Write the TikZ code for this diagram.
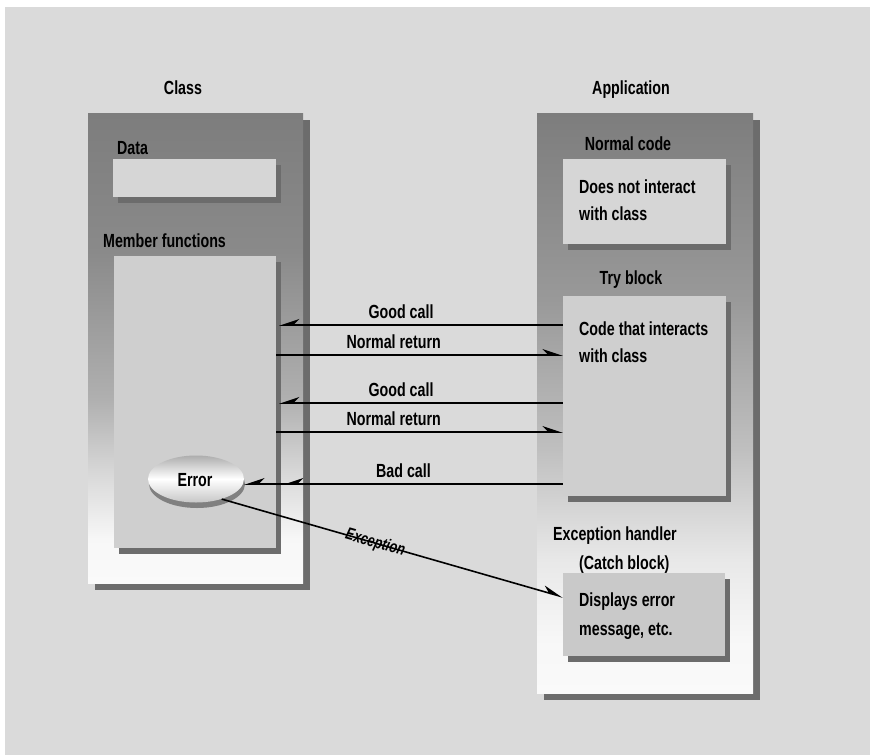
\documentclass[tikz,border=0pt]{standalone}
\usepackage{fontspec}
\newfontfamily\labfont{Liberation Sans}[FakeStretch=0.75]
\usetikzlibrary{arrows.meta,shapes.geometric,shadows}
\definecolor{bg}{HTML}{DADADA}
\definecolor{shadowgray}{HTML}{6C6C6C}
\definecolor{innerA}{HTML}{D6D6D6}
\definecolor{innerB}{HTML}{CFCFCF}
\definecolor{innerC}{HTML}{C9C9C9}
\pgfdeclareverticalshading{classshade}{100bp}{color(0bp)=(white!98!black); color(25bp)=(white!98!black); color(29.6bp)=(white!97!black); color(36bp)=(white!86!black); color(44.5bp)=(white!69!black); color(60.4bp)=(white!54!black); color(75bp)=(white!49!black); color(100bp)=(white!49!black)}
\pgfdeclareverticalshading{appshade}{100bp}{color(0bp)=(white!98!black); color(25bp)=(white!98!black); color(29.6bp)=(white!97!black); color(36.5bp)=(white!91!black); color(46bp)=(white!75!black); color(58.9bp)=(white!60!black); color(75bp)=(white!49!black); color(100bp)=(white!49!black)}
\tikzset{
  lab/.style={font=\labfont\bfseries\fontsize{19}{27}\selectfont, inner sep=0pt, text=black},
  outerbox/.style={draw=none, rectangle, inner sep=0pt,
    drop shadow={shadow xshift=7pt, shadow yshift=-7pt, fill=shadowgray, opacity=1}},
  innerbox/.style={draw=none, rectangle, inner sep=0pt,
    drop shadow={shadow xshift=5pt, shadow yshift=-6pt, fill=shadowgray, opacity=1}},
  harpL/.style={line width=1.6pt, black, -{Stealth[harpoon,swap,length=18pt,width=12pt,inset=6pt]}},
  harpR/.style={line width=1.6pt, black, -{Stealth[harpoon,length=18pt,width=12pt,inset=6pt]}},
}
\begin{document}
\begin{tikzpicture}[x=1pt,y=-1pt]
\useasboundingbox (0,0) rectangle (870,755);
\fill[white] (0,0) rectangle (870,755);
\fill[bg] (5,7) rectangle (870,755);

% outer boxes
\node[outerbox, shading=classshade, minimum width=215pt, minimum height=470pt] (cls) at (195.5,348) {};
\node[outerbox, shading=appshade, minimum width=216pt, minimum height=580pt] (app) at (645,403) {};

% class inner boxes
\node[innerbox, fill=innerA, minimum width=163pt, minimum height=38pt] (data) at (194.5,178) {};
\node[innerbox, fill=innerB, minimum width=162pt, minimum height=292pt] (mem) at (195,402) {};

% application inner boxes
\node[innerbox, fill=innerA, minimum width=163pt, minimum height=85pt] (norm) at (644.5,201.5) {};
\node[innerbox, fill=innerB, minimum width=163pt, minimum height=200pt] (try) at (644.5,396) {};
\node[innerbox, fill=innerC, minimum width=162pt, minimum height=83pt] (disp) at (644,614.5) {};

% error ellipse
\fill[black!50] (197,484) ellipse (48pt and 24pt);
\node[ellipse, inner sep=0pt, minimum width=96pt, minimum height=47pt,
  top color=black!32, bottom color=black!22, middle color=white] (err) at (196,479) {};

% labels
\node[lab, anchor=base] (lclass) at (183,94) {Class};
\node[lab, anchor=base] (lapp) at (631,94) {Application};
\node[lab, anchor=base west] (ldata) at (117,154) {Data};
\node[lab, anchor=base west] (lmem) at (103,247) {Member functions};
\node[lab, anchor=base] (lnorm) at (628,150) {Normal code};
\node[lab, anchor=base] (ltry) at (631,284) {Try block};
\node[lab, anchor=base west] (lexc) at (553,540) {Exception handler};
\node[lab, anchor=base west] (lcatch) at (579,569) {(Catch block)};
\node[lab, anchor=base west] (tnorm1) at (579,193) {Does not interact};
\node[lab, anchor=base west] (tnorm2) at (579,220) {with class};
\node[lab, anchor=base west] (ttry1) at (579,335) {Code that interacts};
\node[lab, anchor=base west] (ttry2) at (579,362) {with class};
\node[lab, anchor=base west] (tdisp1) at (579,606) {Displays error};
\node[lab, anchor=base west] (tdisp2) at (579,635) {message, etc.};
\node[lab, anchor=base] (terr) at (195,486) {Error};

% connectors
\coordinate (r1) at (try.west |- 0,325);
\coordinate (r2) at (try.west |- 0,355);
\coordinate (r3) at (try.west |- 0,403);
\coordinate (r4) at (try.west |- 0,432);
\coordinate (r5) at (try.west |- 0,484);
\coordinate (m1) at (279,325);
\coordinate (m2) at (mem.east |- 0,355);
\coordinate (m3) at (279,403);
\coordinate (m4) at (mem.east |- 0,432);
\coordinate (m5) at (283,484);
\coordinate (e5) at (err.east |- 0,484);

\draw[harpL] (r1) -- node[lab, above=6pt, pos=0.57] (lg1) {Good call} (m1);
\draw[harpR] (m2) -- node[lab, above=6pt, pos=0.41] (ln1) {Normal return} (r2);
\draw[harpL] (r3) -- node[lab, above=6pt, pos=0.57] (lg2) {Good call} (m3);
\draw[harpR] (m4) -- node[lab, above=6pt, pos=0.41] (ln2) {Normal return} (r4);
\draw[harpL] (r5) -- (m5);
\draw[harpL] (r5) -- node[lab, above=6pt, pos=0.50] (lbad) {Bad call} (e5);
\draw[harpR] (err.-38) -- node[lab, sloped, pos=0.45, font=\labfont\bfseries\itshape\fontsize{17}{20}\selectfont] (lex) {Exception} (disp.west |- 0,597);
\end{tikzpicture}
\end{document}
